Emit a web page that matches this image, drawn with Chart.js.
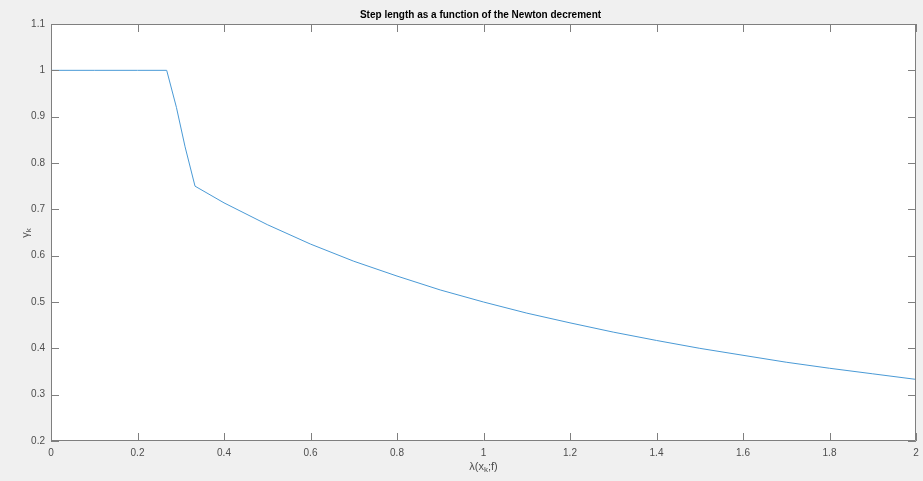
<!DOCTYPE html>
<html lang="en">
  <head>
    <meta charset="UTF-8" />
    <title>Step length as a function of the Newton decrement</title>
    <script src="https://cdn.jsdelivr.net/npm/chart.js@4/dist/chart.umd.min.js"></script>
    <style>
      body {
        margin: 0;
        padding: 0;
        background-color: #f0f0f0;
      }
      .wrap {
        width: 923px;
        height: 481px;
      }
    </style>
  </head>
  <body>
    <div class="wrap">
      <canvas id="stepChart" width="923" height="481"></canvas>
    </div>
    <script>
      // values
      const lambdaVals = [0, 0.1, 0.2, 0.2675, 0.29, 0.31, 0.333, 0.4, 0.5, 0.6, 0.7, 0.8, 0.9, 1.0, 1.1, 1.2, 1.3, 1.4, 1.5, 1.6, 1.7, 1.8, 1.9, 2.0];
      const gammaVals = [1, 1, 1, 1, 0.92, 0.835, 0.75, 0.714, 0.667, 0.625, 0.588, 0.556, 0.526, 0.5, 0.476, 0.455, 0.435, 0.417, 0.4, 0.385, 0.37, 0.357, 0.345, 0.333];
      const xTicks = [0, 0.2, 0.4, 0.6, 0.8, 1, 1.2, 1.4, 1.6, 1.8, 2];
      const yTicks = [0.2, 0.3, 0.4, 0.5, 0.6, 0.7, 0.8, 0.9, 1, 1.1];

      const axisColor = "#7f7f7f";
      const labelColor = "#4d4d4d";
      const font = "'Liberation Sans', Arial, sans-serif";

      const matlabLook = {
        id: "matlabLook",
        beforeDraw(chart) {
          const {ctx, chartArea: a} = chart;
          ctx.save();
          ctx.fillStyle = "#f0f0f0";
          ctx.fillRect(0, 0, chart.width, chart.height);
          ctx.fillStyle = "#ffffff";
          ctx.fillRect(a.left, a.top, a.right - a.left, a.bottom - a.top);
          ctx.restore();
        },
        afterDraw(chart) {
          const {ctx, chartArea: a} = chart;
          const xs = chart.scales.x;
          const ys = chart.scales.y;
          const len = 8;
          ctx.save();
          ctx.strokeStyle = axisColor;
          ctx.lineWidth = 1;
          ctx.beginPath();
          ctx.rect(a.left + 0.5, a.top + 0.5, a.right - a.left - 1, a.bottom - a.top - 1);
          xTicks.forEach((v) => {
            const px = Math.round(xs.getPixelForValue(v)) + 0.5;
            ctx.moveTo(px, a.bottom);
            ctx.lineTo(px, a.bottom - len);
            ctx.moveTo(px, a.top);
            ctx.lineTo(px, a.top + len);
          });
          yTicks.forEach((v) => {
            const py = Math.round(ys.getPixelForValue(v)) + 0.5;
            ctx.moveTo(a.left, py);
            ctx.lineTo(a.left + len, py);
            ctx.moveTo(a.right, py);
            ctx.lineTo(a.right - len, py);
          });
          ctx.stroke();

          const cx = (a.left + a.right) / 2;
          ctx.fillStyle = "#000000";
          ctx.textAlign = "center";
          ctx.textBaseline = "middle";
          ctx.font = "bold 10px " + font;
          ctx.fillText("Step length as a function of the Newton decrement", cx - 3, 15);

          // x label: λ(x_k;f)
          ctx.fillStyle = labelColor;
          const p1 = "λ(x", p2 = ";f)";
          ctx.font = "11px " + font;
          const w1 = ctx.measureText(p1).width;
          const w3 = ctx.measureText(p2).width;
          ctx.font = "8px " + font;
          const w2 = ctx.measureText("k").width;
          const sx = cx - (w1 + w2 + w3) / 2;
          const ly = 467;
          ctx.textAlign = "left";
          ctx.font = "11px " + font;
          ctx.fillText(p1, sx, ly);
          ctx.font = "8px " + font;
          ctx.fillText("k", sx + w1, ly + 3);
          ctx.font = "11px " + font;
          ctx.fillText(p2, sx + w1 + w2, ly);

          // y label: γ_k rotated
          ctx.translate(26, 233);
          ctx.rotate(-Math.PI / 2);
          ctx.font = "11px " + font;
          const g = ctx.measureText("γ").width;
          ctx.font = "8px " + font;
          const k = ctx.measureText("k").width;
          ctx.font = "11px " + font;
          ctx.fillText("γ", -(g + k) / 2, 0);
          ctx.font = "8px " + font;
          ctx.fillText("k", -(g + k) / 2 + g, 3);
          ctx.restore();
        },
      };

      new Chart(document.getElementById("stepChart"), {
        type: "line",
        data: {
          datasets: [
            {
              data: lambdaVals.map((x, i) => ({x: x, y: gammaVals[i]})),
              borderColor: "#4a9ad6",
              borderWidth: 1,
              pointRadius: 0,
              tension: 0,
              fill: false,
            },
          ],
        },
        options: {
          responsive: false,
          animation: false,
          layout: {padding: {left: 0, top: 24, right: 7, bottom: 0}},
          plugins: {legend: {display: false}, tooltip: {enabled: false}},
          scales: {
            x: {
              type: "linear",
              min: 0,
              max: 2,
              afterFit: (s) => {
                s.height = 40;
                s.paddingLeft = 0;
                s.paddingRight = 0;
              },
              afterBuildTicks: (s) => { s.ticks = xTicks.map((v) => ({value: v})); },
              grid: {display: false, drawTicks: false},
              border: {display: false},
              ticks: {
                padding: 6,
                color: labelColor,
                font: {family: font, size: 10},
                callback: (v) => String(+v.toFixed(1)),
              },
            },
            y: {
              type: "linear",
              min: 0.2,
              max: 1.1,
              afterFit: (s) => {
                s.width = 51;
                s.paddingTop = 0;
                s.paddingBottom = 0;
              },
              afterBuildTicks: (s) => { s.ticks = yTicks.map((v) => ({value: v})); },
              grid: {display: false, drawTicks: false},
              border: {display: false},
              ticks: {
                padding: 6,
                color: labelColor,
                font: {family: font, size: 10},
                callback: (v) => String(+v.toFixed(1)),
              },
            },
          },
        },
        plugins: [matlabLook],
      });
    </script>
  </body>
</html>
